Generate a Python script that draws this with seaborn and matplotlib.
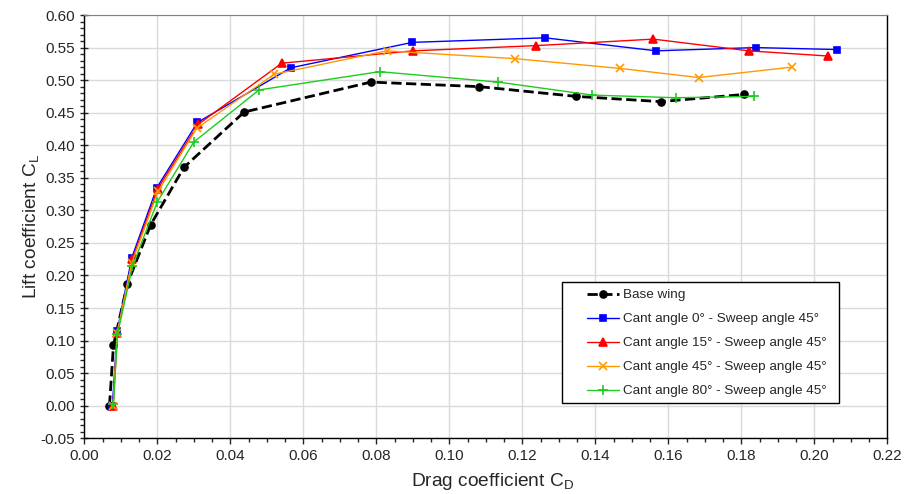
import matplotlib
matplotlib.use('Agg')
import matplotlib.pyplot as plt
import seaborn as sns
from matplotlib.patches import Rectangle
from matplotlib.ticker import MultipleLocator, FormatStrFormatter

# [1. 데이터] 그림에서 읽은 값
base_cd = [0.0069, 0.0080, 0.0118, 0.0182, 0.0273, 0.0438, 0.0785, 0.1082, 0.1348, 0.1579, 0.1807]
base_cl = [0.000, 0.093, 0.187, 0.278, 0.366, 0.451, 0.497, 0.490, 0.475, 0.467, 0.478]

cant0_cd = [0.0077, 0.0090, 0.0130, 0.0199, 0.0310, 0.0566, 0.0899, 0.1262, 0.1567, 0.1839, 0.2061]
cant0_cl = [0.000, 0.114, 0.227, 0.335, 0.435, 0.519, 0.558, 0.565, 0.545, 0.550, 0.547]

cant15_cd = [0.0079, 0.0091, 0.0132, 0.0201, 0.0312, 0.0541, 0.0901, 0.1238, 0.1559, 0.1820, 0.2038]
cant15_cl = [0.000, 0.112, 0.225, 0.333, 0.432, 0.526, 0.545, 0.553, 0.563, 0.545, 0.537]

cant45_cd = [0.0079, 0.0090, 0.0130, 0.0202, 0.0308, 0.0520, 0.0828, 0.1180, 0.1468, 0.1683, 0.1939]
cant45_cl = [0.000, 0.112, 0.219, 0.329, 0.426, 0.509, 0.545, 0.533, 0.518, 0.504, 0.520]

cant80_cd = [0.0080, 0.0091, 0.0132, 0.0200, 0.0300, 0.0479, 0.0809, 0.1134, 0.1392, 0.1621, 0.1835]
cant80_cl = [0.003, 0.110, 0.214, 0.313, 0.405, 0.485, 0.513, 0.497, 0.477, 0.473, 0.475]

labels = ['Base wing',
          'Cant angle 0° - Sweep angle 45°',
          'Cant angle 15° - Sweep angle 45°',
          'Cant angle 45° - Sweep angle 45°',
          'Cant angle 80° - Sweep angle 45°']

# [2. 스타일]
sns.set_style('white')
plt.rcParams['font.family'] = ['Liberation Sans', 'DejaVu Sans']
plt.rcParams['mathtext.fontset'] = 'custom'
plt.rcParams['mathtext.rm'] = 'Liberation Sans'
plt.rcParams['mathtext.it'] = 'Liberation Sans'

fig = plt.figure(figsize=(9.18, 4.94), dpi=100)
ax = fig.add_axes([0.0918, 0.1128, 0.8748, 0.8568])

series = [
    (base_cd, base_cl, 'black', 'o', '--', 2.0, 5),
    (cant0_cd, cant0_cl, '#0000FF', 's', '-', 1.0, 5),
    (cant15_cd, cant15_cl, '#FF0000', '^', '-', 1.0, 6),
    (cant45_cd, cant45_cl, '#FF9900', 'x', '-', 1.0, 6),
    (cant80_cd, cant80_cl, '#1ECC1E', '+', '-', 1.0, 7),
]

for (xs, ys, c, m, ls, lw, ms), lab in zip(series, labels):
    sns.lineplot(x=xs, y=ys, ax=ax, sort=False, color=c, marker=m, linestyle=ls,
                 linewidth=lw, markersize=ms, markeredgecolor=c, markerfacecolor=c,
                 markeredgewidth=1.2, label=lab)

# [3. 축]
ax.set_xlim(0, 0.22)
ax.set_ylim(-0.05, 0.60)
ax.xaxis.set_major_locator(MultipleLocator(0.02))
ax.xaxis.set_minor_locator(MultipleLocator(0.005))
ax.yaxis.set_major_locator(MultipleLocator(0.05))
ax.yaxis.set_minor_locator(MultipleLocator(0.01))
ax.xaxis.set_major_formatter(FormatStrFormatter('%.2f'))
ax.yaxis.set_major_formatter(FormatStrFormatter('%.2f'))
ax.tick_params(axis='x', which='major', direction='out', length=4, width=1, labelsize=11, bottom=True)
ax.tick_params(axis='x', which='minor', direction='out', length=3, width=1, bottom=True)
ax.tick_params(axis='y', which='major', direction='inout', length=6, width=1, labelsize=11, left=True)
ax.tick_params(axis='y', which='minor', direction='out', length=3, width=1, left=True)

ax.grid(True, which='major', color='#DADADA', linewidth=1)
for side in ['left', 'bottom', 'right']:
    ax.spines[side].set_color('black')
    ax.spines[side].set_linewidth(1)
ax.spines['top'].set_color('#808080')

ax.set_xlabel(r'Drag coefficient C$_\mathrm{D}$', fontsize=13.8)
ax.xaxis.set_label_coords(0.508, -0.078)
ax.set_ylabel(r'Lift coefficient C$_\mathrm{L}$', fontsize=13.8)
ax.yaxis.set_label_coords(-0.054, 0.5)

# 범례 (테두리는 따로 그림: 좌우 여백이 위아래보다 넓어서)
leg = ax.legend(loc='upper left', bbox_to_anchor=(0.626, 0.353), fontsize=9.7,
                frameon=False, handlelength=2.37, handletextpad=0.3,
                labelspacing=0.86, borderpad=0, borderaxespad=0)
ax.add_patch(Rectangle((0.595, 0.083), 0.345, 0.286, transform=ax.transAxes,
                       facecolor='white', edgecolor='black', linewidth=1, zorder=4))
leg.set_zorder(5)

plt.savefig('out.png', dpi=100)
